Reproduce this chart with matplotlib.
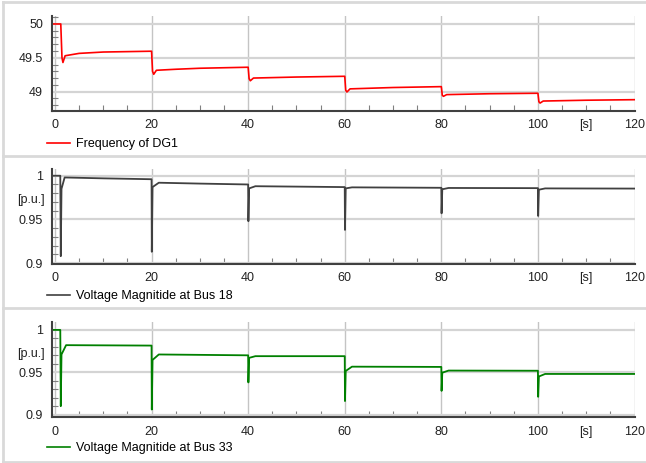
import matplotlib
matplotlib.use("Agg")
import matplotlib.pyplot as plt
from matplotlib.lines import Line2D
from matplotlib.ticker import MultipleLocator

plt.rcParams["font.family"] = ["Liberation Sans", "DejaVu Sans"]

# ── Daten ───────────────────────────────────────────────────────────────────
t_freq = [-0.72, 1.2, 1.45, 1.65, 2.1, 5, 10, 20,
          20.2, 20.45, 21.0, 25, 30, 40,
          40.2, 40.45, 41.1, 50, 60,
          60.2, 60.45, 61.1, 70, 80,
          80.2, 80.45, 81.1, 90, 100,
          100.2, 100.45, 101.1, 110, 120]
freq = [50.0, 50.0, 49.5, 49.43, 49.53, 49.565, 49.585, 49.597,
        49.30, 49.256, 49.315, 49.33, 49.345, 49.36,
        49.19, 49.16, 49.20, 49.215, 49.226,
        49.02, 48.994, 49.04, 49.06, 49.073,
        48.945, 48.93, 48.955, 48.968, 48.975,
        48.85, 48.83, 48.86, 48.872, 48.88]

t_v18 = [-0.72, 1.1, 1.2, 1.35, 2.0, 10, 20,
         20.05, 20.2, 21.5, 30, 40,
         40.05, 40.2, 41.5, 60,
         60.05, 60.2, 61.5, 80,
         80.05, 80.2, 81.5, 100,
         100.05, 100.2, 101.5, 120]
v18 = [1.0, 1.0, 0.908, 0.985, 0.998, 0.997, 0.996,
       0.913, 0.987, 0.992, 0.991, 0.990,
       0.948, 0.9855, 0.988, 0.987,
       0.938, 0.9855, 0.9867, 0.9862,
       0.957, 0.9845, 0.986, 0.9858,
       0.954, 0.984, 0.9855, 0.9853]

t_v33 = [-0.72, 1.1, 1.2, 1.35, 2.3, 20,
         20.05, 20.2, 21.5, 40,
         40.05, 40.2, 41.5, 60,
         60.05, 60.2, 61.5, 80,
         80.05, 80.2, 81.5, 100,
         100.05, 100.2, 101.5, 120]
v33 = [1.0, 1.0, 0.910, 0.971, 0.982, 0.9815,
       0.906, 0.9645, 0.971, 0.970,
       0.938, 0.967, 0.969, 0.969,
       0.916, 0.9515, 0.9566, 0.9563,
       0.928, 0.9495, 0.952, 0.9518,
       0.921, 0.945, 0.948, 0.948]

x_ticks = [0, 20, 40, 60, 80, 100, 120]

W, H = 646, 463
fig = plt.figure(figsize=(W / 100, H / 100), dpi=100)

FS = 9
TXT = "#222222"
SPINE = "#404040"


def px_axes(left, top, right, bottom):
    return fig.add_axes([left / W, 1 - bottom / H, (right - left) / W, (bottom - top) / H])


def style(ax, ylim, yticks, ylabels, ymin_step):
    ax.set_xlim(-0.72, 120)
    ax.set_ylim(*ylim)
    ax.set_xticks(x_ticks)
    ax.set_xticklabels([str(x) for x in x_ticks])
    ax.xaxis.set_minor_locator(MultipleLocator(5))
    ax.set_yticks(yticks)
    ax.set_yticklabels(ylabels)
    ax.yaxis.set_minor_locator(MultipleLocator(ymin_step))
    for s in ["top", "right"]:
        ax.spines[s].set_visible(False)
    for s in ["left", "bottom"]:
        ax.spines[s].set_color(SPINE)
        ax.spines[s].set_linewidth(1.5)
    ax.tick_params(which="both", direction="in", colors="#808080",
                   labelcolor=TXT, labelsize=FS)
    ax.tick_params(which="major", length=0, pad=6)
    ax.tick_params(which="minor", length=4, width=0.8)
    ax.grid(True, axis="y", color="#d4d4d4", lw=1.6)
    ax.grid(True, axis="x", color="#c4c4c4", lw=1.0)
    ax.set_axisbelow(True)
    ax.annotate("[s]", xy=(110, 0), xycoords=("data", "axes fraction"),
                xytext=(0, -6), textcoords="offset points",
                ha="center", va="top", fontsize=FS, color=TXT)


def legend(ax, label, color, y):
    h = Line2D([], [], color=color, lw=1.2)
    ax.legend([h], [label], loc="center left",
              bbox_to_anchor=(47 / W, 1 - y / H), bbox_transform=fig.transFigure,
              frameon=False, fontsize=FS, handlelength=1.85,
              handletextpad=0.45, borderpad=0, borderaxespad=0)


# ── Panel 1: Frequenz ───────────────────────────────────────────────────────
ax1 = px_axes(51.5, 16, 634.5, 110.7)
ax1.plot(t_freq, freq, color="#ff0000", lw=1.2)
style(ax1, (48.717, 50.118), [49, 49.5, 50], ["49", "49.5", "50"], 0.1)
legend(ax1, "Frequency of DG1", "#ff0000", 144)

# ── Panel 2: Spannung Bus 18 ────────────────────────────────────────────────
ax2 = px_axes(51.5, 169, 634.5, 264)
ax2.plot(t_v18, v18, color="#404040", lw=1.3)
style(ax2, (0.899, 1.0077), [0.9, 0.95, 1.0], ["0.9", "0.95", "1"], 0.01)
ax2.annotate("[p.u.]", xy=(0, 0.972), xycoords=("axes fraction", "data"),
             xytext=(-5, 0), textcoords="offset points",
             ha="right", va="center", fontsize=FS, color=TXT)
legend(ax2, "Voltage Magnitide at Bus 18", "#404040", 296)

# ── Panel 3: Spannung Bus 33 ────────────────────────────────────────────────
ax3 = px_axes(51.5, 322.3, 634.5, 417.3)
ax3.plot(t_v33, v33, color="#008000", lw=1.3)
style(ax3, (0.8968, 1.009), [0.9, 0.95, 1.0], ["0.9", "0.95", "1"], 0.01)
ax3.annotate("[p.u.]", xy=(0, 0.9716), xycoords=("axes fraction", "data"),
             xytext=(-5, 0), textcoords="offset points",
             ha="right", va="center", fontsize=FS, color=TXT)
legend(ax3, "Voltage Magnitide at Bus 33", "#008000", 448)

# ── Rahmenlinien der Panels ─────────────────────────────────────────────────
frame = "#d9d9d9"
for y in [2, 156, 308, 462]:
    fig.add_artist(Line2D([3 / W, 1], [1 - y / H, 1 - y / H],
                          transform=fig.transFigure, color=frame, lw=2))
fig.add_artist(Line2D([3 / W, 3 / W], [1 - 2 / H, 1 - 462 / H],
                      transform=fig.transFigure, color=frame, lw=2))

fig.savefig("out.png", dpi=100, facecolor="white")
